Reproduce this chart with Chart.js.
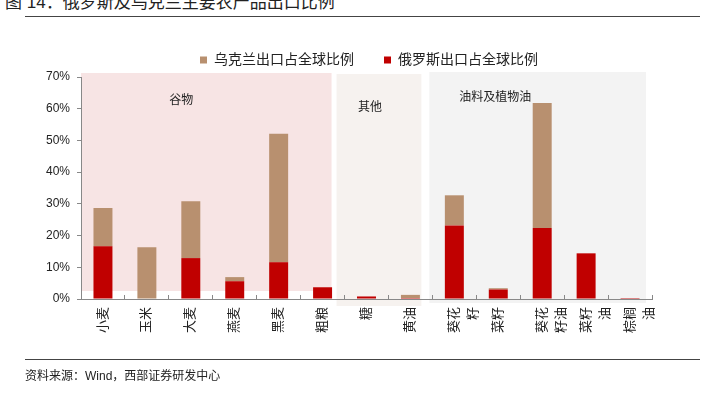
<!DOCTYPE html>
<html>
<head>
<meta charset="utf-8">
<script src="https://cdn.jsdelivr.net/npm/chart.js@4/dist/chart.umd.min.js"></script>
<style>
  body { margin: 0; background: #fff; width: 703px; height: 398px; overflow: hidden; position: relative;
         font-family: 'Liberation Sans', 'Noto Sans CJK SC', sans-serif; color: #222; }
  #chart { position: absolute; left: 0; top: 0; }
  .title { position: absolute; left: 5px; top: -12px; font-size: 17px; white-space: nowrap; }
  .rule { position: absolute; left: 25px; width: 675px; height: 0; border-top: 1px solid #444; }
  .source { position: absolute; left: 25px; top: 366px; font-size: 12px; white-space: nowrap; }
</style>
</head>
<body>
<div class="title">图 14：俄罗斯及乌克兰主要农产品出口比例</div>
<div class="rule" style="top:16px"></div>
<canvas id="chart" width="703" height="398"></canvas>
<div class="rule" style="top:359px"></div>
<div class="source">资料来源：Wind，西部证券研发中心</div>
<script>
// categories (multi-line ones split the way the axis shows them)
const products = ['小麦', '玉米', '大麦', '燕麦', '黑麦', '粗粮', '糖', '黄油',
  ['葵花', '籽'], '菜籽', ['葵花', '籽油'], ['菜籽', '油'], ['棕榈', '油']];
// share of world exports, %
const russiaShare = [16.6, 0, 12.9, 5.6, 11.6, 3.7, 0.8, 0.3, 23.2, 3.0, 22.4, 14.4, 0.3];
const ukraineShare = [12.1, 16.3, 17.9, 1.3, 40.5, 0, 0, 1.0, 9.5, 0.4, 39.4, 0, 0];
const yTicks = [0, 10, 20, 30, 40, 50, 60, 70];
const groupNames = ['谷物', '其他', '油料及植物油'];

const CJK = "'Liberation Sans', 'Noto Sans CJK SC', sans-serif";

// shaded group panels behind the bars, plus their captions
const groupPanels = {
  id: 'groupPanels',
  beforeDraw(chart) {
    const { ctx, scales: { x, y } } = chart;
    const cw = x.width / products.length;
    const panels = [
      { from: 0, to: 5, dl: 0, dr: -13, top: -4, bottom: -8, fill: '#F7E4E4', tx: 1.78, ty: 62.5 },
      { from: 6, to: 7, dl: -8, dr: -11, top: -3, bottom: 7, fill: '#F6F2EF', tx: 6.08, ty: 60.3 },
      { from: 8, to: 12, dl: -3, dr: -6, top: -5, bottom: 4, fill: '#F3F3F3', tx: 8.93, ty: 63.4 }
    ];
    ctx.save();
    panels.forEach((p, i) => {
      const left = x.getPixelForValue(p.from) - cw / 2 + p.dl;
      const right = x.getPixelForValue(p.to) + cw / 2 + p.dr;
      const top = y.getPixelForValue(70) + p.top;
      const bottom = y.getPixelForValue(0) + p.bottom;
      ctx.fillStyle = p.fill;
      ctx.fillRect(left, top, right - left, bottom - top);
      ctx.fillStyle = '#222';
      ctx.font = '12px ' + CJK;
      ctx.textAlign = 'center';
      ctx.textBaseline = 'middle';
      ctx.fillText(groupNames[i], x.getPixelForValue(p.tx), y.getPixelForValue(p.ty));
    });
    ctx.restore();
  },
  // legend sits centred over the plot, not the whole canvas
  afterLayout(chart) {
    chart.legend.left += 43;
    chart.legend.right += 43;
  }
};

new Chart(document.getElementById('chart'), {
  type: 'bar',
  data: {
    labels: products,
    datasets: [
      { label: '俄罗斯出口占全球比例', data: russiaShare, backgroundColor: '#C00000' },
      { label: '乌克兰出口占全球比例', data: ukraineShare, backgroundColor: '#B8906F' }
    ]
  },
  options: {
    responsive: false,
    animation: false,
    devicePixelRatio: 1,
    layout: { padding: { top: 23, right: 51, bottom: 39, left: 0 } },
    datasets: { bar: { categoryPercentage: 0.48, barPercentage: 0.9 } },
    plugins: {
      tooltip: { enabled: false },
      legend: {
        position: 'top',
        labels: {
          boxWidth: 7,
          boxHeight: 7,
          padding: 30,
          color: '#222',
          font: { size: 14, family: CJK },
          sort: (a, b) => b.datasetIndex - a.datasetIndex
        }
      }
    },
    scales: {
      x: {
        stacked: true,
        grid: { display: true, offset: true, drawOnChartArea: false, tickLength: -4, color: '#888' },
        border: { display: true, color: '#888' },
        ticks: {
          autoSkip: false, minRotation: 90, maxRotation: 90, padding: 12,
          color: '#222', font: { size: 13, family: CJK, lineHeight: 1.5 }
        },
        afterFit: s => { s.height = 60; }
      },
      y: {
        stacked: true,
        min: 0,
        max: 70,
        afterBuildTicks: s => { s.ticks = yTicks.map(v => ({ value: v })); },
        grid: { display: true, drawOnChartArea: false, tickLength: 4, color: '#888' },
        border: { display: true, color: '#888' },
        ticks: {
          padding: 7, color: '#222', font: { size: 12, family: "'Liberation Sans', Arial, sans-serif" },
          callback: v => v + '%'
        },
        afterFit: s => { s.width = 81; }
      }
    }
  },
  plugins: [groupPanels]
});
</script>
</body>
</html>
